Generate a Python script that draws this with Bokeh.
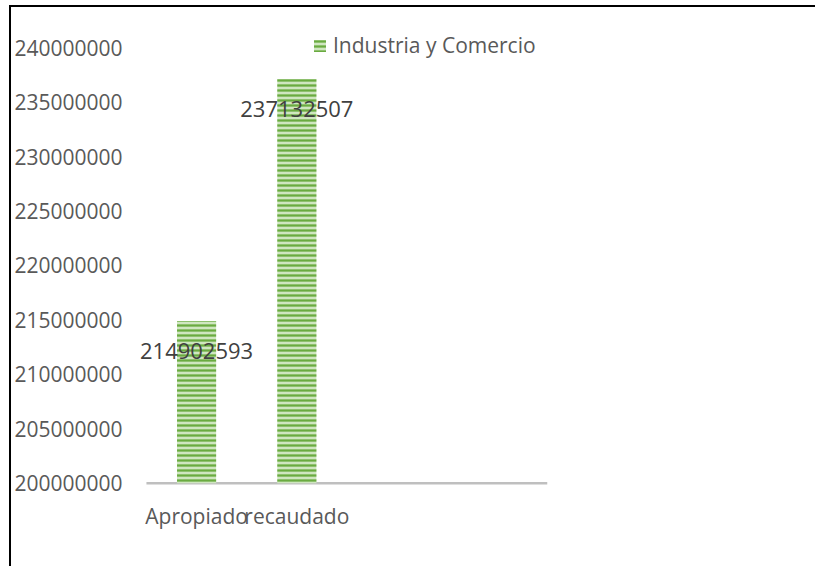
from bokeh.plotting import figure
from bokeh.models import ColumnDataSource, FixedTicker, NumeralTickFormatter, Legend, LegendItem, Range1d
from bokeh.core.properties import value
from bokeh.embed import file_html
from bokeh.resources import INLINE

categories = ["Apropiado", "recaudado"]
values = [214902593, 237132507]
series_name = "Industria y Comercio"
y_ticks = [200000000, 205000000, 210000000, 215000000, 220000000,
           225000000, 230000000, 235000000, 240000000]
base_value = 200000000
n_slots = 4

xs = [i + 1 for i in range(len(categories))]
src = ColumnDataSource(dict(x=xs, top=values, label=[str(v) for v in values]))

p = figure(width=806, height=561, output_backend="svg", toolbar_location=None,
           x_range=Range1d(0.331, 4.5), y_range=Range1d(199800000, 241850000),
           min_border_left=117, min_border_top=20, min_border_right=270, min_border_bottom=83)
p.margin = (5, 0, 0, 9)
p.outline_line_color = None
p.grid.visible = False
p.background_fill_color = "white"
p.border_fill_color = "white"
p.styles = {"border-left": "2px solid black", "border-top": "2px solid black"}

# baseline (category axis line)
p.segment(x0=[0.5], x1=[0.5 + n_slots], y0=[base_value], y1=[base_value],
          line_color="#bfbfbf", line_width=2.5)

r = p.vbar(x="x", top="top", bottom=base_value, width=0.39, source=src,
           fill_color="#cfe6c0", line_color=None,
           hatch_pattern="horizontal_line", hatch_color="#6aab40",
           hatch_scale=5, hatch_weight=2.3)

p.text(x="x", y="top", text="label", source=src, y_offset=30,
       text_align="center", text_baseline="middle",
       text_font=value("Open Sans"), text_font_size="22px", text_color="#404040")

# axes
p.yaxis.ticker = FixedTicker(ticks=y_ticks)
p.yaxis.formatter = NumeralTickFormatter(format="0")
p.yaxis.axis_line_color = None
p.yaxis.major_tick_line_color = None
p.yaxis.minor_tick_line_color = None
p.yaxis.major_label_standoff = 1
p.yaxis.major_label_text_font = "Open Sans"
p.yaxis.major_label_text_font_size = "21px"
p.yaxis.major_label_text_color = "#595959"

p.xaxis.ticker = FixedTicker(ticks=xs)
p.xaxis.major_label_overrides = {x: c for x, c in zip(xs, categories)}
p.xaxis.axis_line_color = None
p.xaxis.major_tick_line_color = None
p.xaxis.minor_tick_line_color = None
p.xaxis.major_label_standoff = 10
p.xaxis.major_label_text_font = "Open Sans"
p.xaxis.major_label_text_font_size = "21px"
p.xaxis.major_label_text_color = "#595959"

legend = Legend(items=[LegendItem(label=series_name, renderers=[r])],
                location=(183, 426), orientation="horizontal",
                padding=0, margin=0, spacing=0, label_standoff=6,
                glyph_width=15, glyph_height=15,
                border_line_color=None, background_fill_alpha=0,
                label_text_font="Open Sans", label_text_font_size="21px",
                label_text_color="#595959")
p.add_layout(legend, "center")

open("out.html", "w").write(file_html(p, INLINE))
